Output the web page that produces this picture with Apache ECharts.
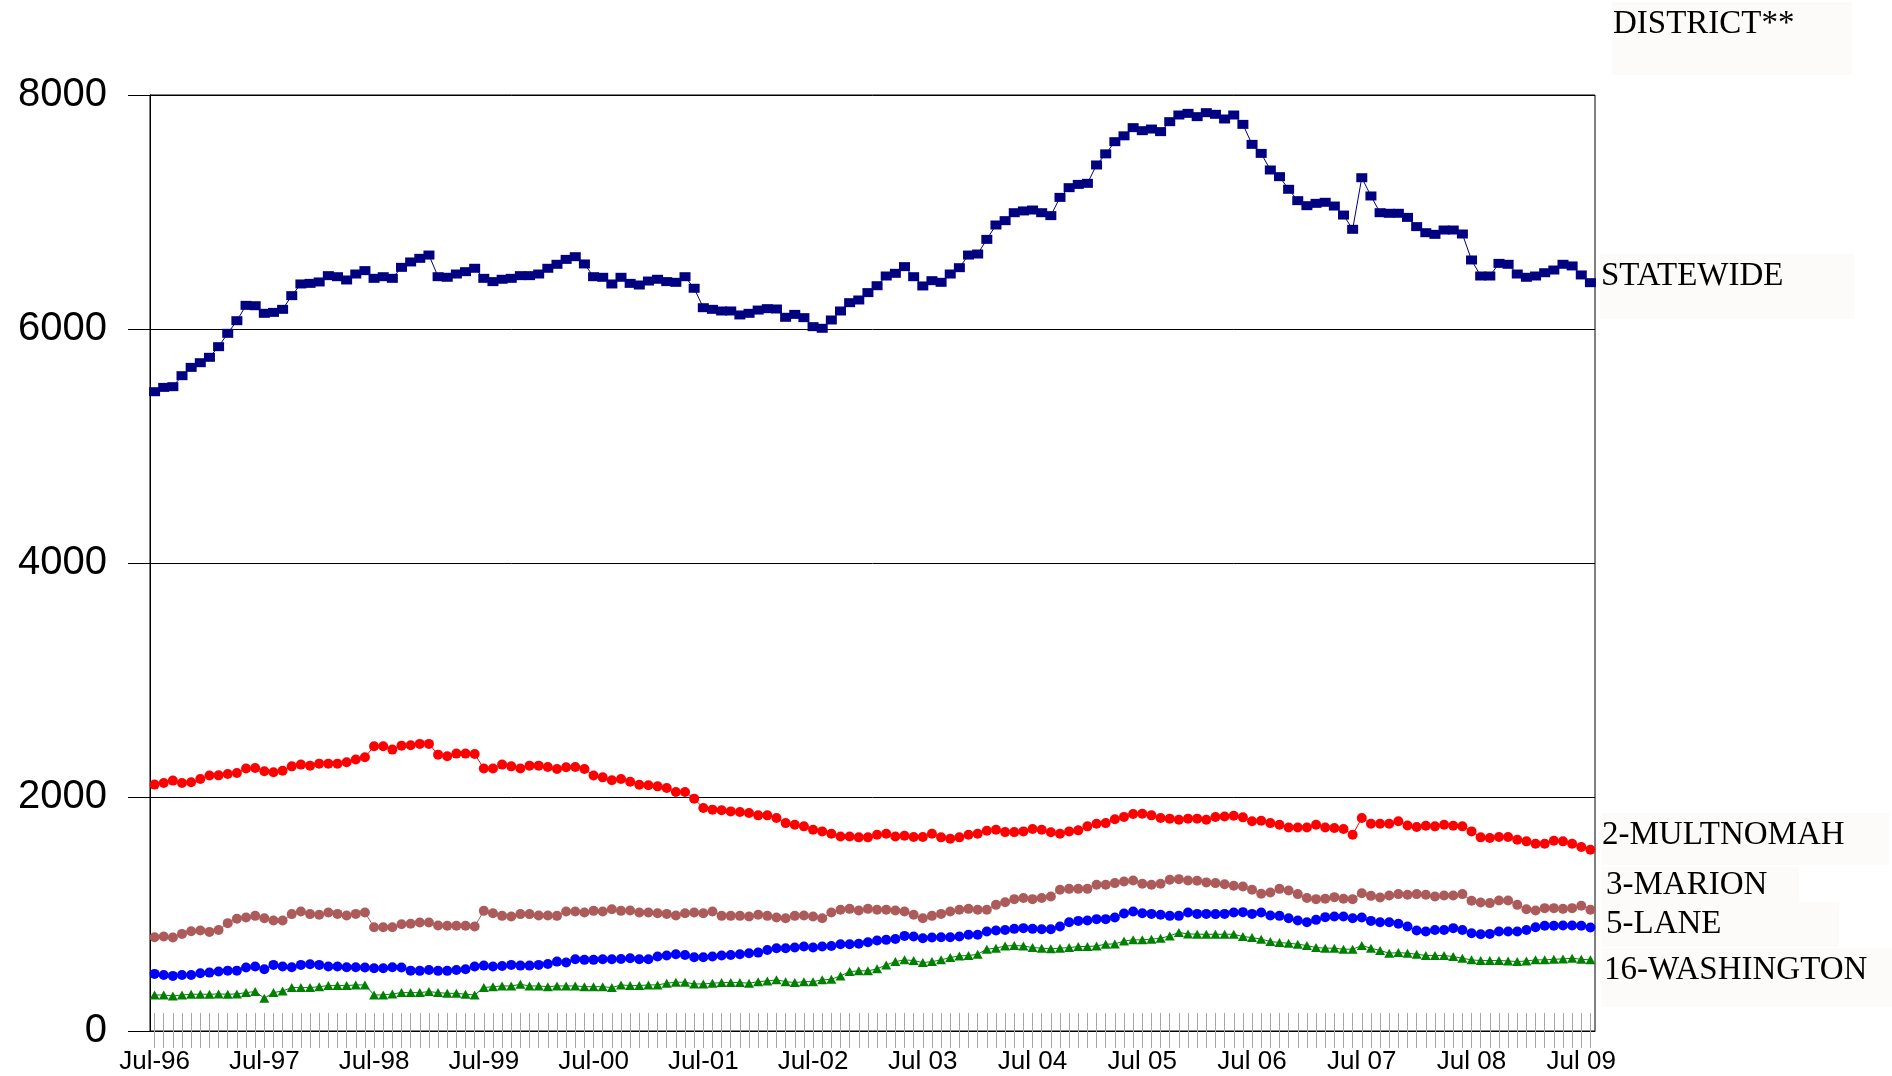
<!DOCTYPE html>
<html>
<head>
<meta charset="utf-8">
<title>District caseload</title>
<script src="https://cdn.jsdelivr.net/npm/echarts@6/dist/echarts.min.js"></script>
<style>
  html, body { margin: 0; padding: 0; background: #fff; }
  #main { width: 1892px; height: 1076px; }
</style>
</head>
<body>
<div id="main"></div>
<script>
// months Jul-96 .. Aug-09, one point per month
var monthNames = ['Jul','Aug','Sep','Oct','Nov','Dec','Jan','Feb','Mar','Apr','May','Jun'];
var julyLabels = ['Jul-96','Jul-97','Jul-98','Jul-99','Jul-00','Jul-01','Jul-02',
                  'Jul 03','Jul 04','Jul 05','Jul 06','Jul 07','Jul 08','Jul 09'];

var statewide = [5464,5501,5507,5601,5672,5712,5758,5849,5963,6071,6202,6199,
  6134,6142,6168,6285,6385,6390,6402,6456,6447,6419,6470,6499,
  6433,6447,6433,6527,6573,6604,6632,6447,6442,6470,6490,6519,
  6433,6405,6425,6433,6456,6456,6470,6519,6553,6595,6618,6556,
  6447,6442,6385,6442,6390,6376,6410,6425,6405,6399,6447,6348,
  6182,6168,6154,6154,6120,6134,6162,6174,6171,6100,6125,6097,
  6020,6006,6077,6154,6225,6248,6311,6370,6453,6476,6533,6447,
  6368,6413,6399,6470,6524,6632,6641,6766,6889,6926,6994,7009,
  7017,6994,6969,7125,7208,7236,7245,7402,7497,7601,7651,7721,
  7695,7709,7687,7772,7829,7843,7815,7849,7835,7795,7829,7749,
  7578,7501,7359,7302,7194,7097,7054,7074,7083,7051,6974,6852,
  7293,7137,6994,6989,6989,6954,6875,6823,6809,6846,6846,6812,
  6590,6453,6453,6561,6553,6470,6442,6453,6481,6504,6553,6539,
  6462,6396];

var multnomah = [2106,2120,2140,2120,2126,2154,2183,2185,2197,2205,2243,2248,
  2220,2211,2225,2262,2277,2268,2285,2285,2285,2297,2320,2339,
  2434,2434,2405,2439,2442,2454,2454,2362,2348,2371,2371,2368,
  2243,2243,2277,2262,2243,2268,2268,2257,2240,2254,2257,2240,
  2183,2168,2143,2154,2130,2105,2100,2091,2077,2043,2043,1986,
  1906,1892,1886,1877,1872,1863,1843,1843,1820,1777,1763,1749,
  1720,1706,1686,1663,1663,1655,1655,1678,1686,1663,1669,1658,
  1658,1686,1655,1643,1655,1678,1686,1712,1720,1700,1700,1706,
  1726,1720,1698,1686,1706,1715,1749,1772,1777,1810,1830,1854,
  1857,1843,1820,1815,1806,1815,1815,1806,1829,1834,1840,1826,
  1792,1797,1777,1763,1740,1740,1740,1763,1740,1735,1726,1678,
  1820,1772,1772,1772,1792,1757,1743,1755,1749,1763,1755,1749,
  1706,1655,1649,1658,1658,1635,1621,1600,1600,1626,1621,1600,
  1572,1549];

var marion = [802,807,799,830,853,859,847,864,922,959,970,984,
  964,944,944,999,1021,999,993,1013,1001,987,1001,1013,
  887,887,887,913,916,927,927,902,899,899,899,893,
  1027,1007,984,979,999,999,987,987,984,1021,1021,1013,
  1027,1021,1041,1027,1030,1013,1013,1007,1001,987,1007,1013,
  1007,1021,984,984,984,979,993,984,970,964,984,987,
  979,964,1013,1036,1044,1030,1044,1036,1036,1030,1021,993,
  964,984,1001,1021,1036,1044,1036,1036,1078,1101,1127,1136,
  1127,1136,1150,1207,1215,1215,1215,1250,1250,1264,1278,1287,
  1258,1250,1258,1292,1298,1287,1284,1270,1264,1255,1241,1235,
  1207,1173,1184,1215,1201,1170,1136,1127,1130,1144,1130,1127,
  1178,1155,1141,1158,1170,1164,1170,1164,1150,1158,1158,1170,
  1113,1098,1093,1116,1116,1078,1041,1030,1050,1050,1044,1050,
  1070,1036];

var lane = [488,479,471,479,479,494,499,508,516,516,542,551,
  528,565,551,545,565,571,565,551,551,545,545,542,
  536,536,545,542,516,514,522,514,514,522,528,551,
  559,551,556,565,559,559,565,573,593,585,613,608,
  608,613,613,616,622,613,613,636,645,656,650,631,
  631,636,645,650,656,665,670,693,708,708,713,722,
  713,722,727,742,742,745,759,773,779,787,813,807,
  793,799,802,802,807,822,822,850,859,864,873,879,
  873,870,870,893,930,941,944,956,956,970,1004,1021,
  1007,1001,993,984,984,1013,1001,1001,999,1001,1013,1016,
  1001,1013,987,984,964,944,930,950,973,979,979,964,
  970,941,930,930,916,893,859,850,864,864,879,864,
  836,827,830,850,850,850,864,887,899,899,902,902,
  899,884];

var washington = [308,308,300,308,314,314,314,317,314,317,328,337,
  280,328,342,371,371,371,379,388,388,388,394,394,
  308,308,317,328,328,328,337,328,322,322,314,308,
  371,379,385,385,399,385,385,379,385,385,385,379,
  379,379,371,394,388,388,394,394,408,417,417,402,
  402,408,414,414,414,408,422,428,437,422,414,422,
  422,437,442,471,508,514,514,531,565,593,608,602,
  585,593,608,628,642,645,656,699,708,727,730,727,
  713,708,702,708,713,722,722,727,742,744,769,779,
  779,785,793,813,842,830,827,827,827,827,827,807,
  799,785,765,756,750,742,730,713,708,708,699,699,
  730,708,688,665,670,665,656,645,645,645,636,622,
  608,602,602,602,599,593,599,608,608,613,616,622,
  613,608];

// category list built from the month names
var categories = [];
for (var i = 0; i < statewide.length; i++) {
  var yr = (96 + Math.floor(i / 12)) % 100;
  categories.push(monthNames[i % 12] + '-' + (yr < 10 ? '0' + yr : '' + yr));
}

var seriesNames = ['STATEWIDE','2-MULTNOMAH','3-MARION','5-LANE','16-WASHINGTON'];
var seriesColors = ['#000080','#ff0000','#ad5a5a','#0000ff','#008000'];

var myChart = echarts.init(document.getElementById('main'));

// a line series with markers
function lineSeries(idx, data, symbol, size) {
  return {
    name: seriesNames[idx],
    type: 'line',
    xAxisIndex: 0,
    yAxisIndex: 0,
    data: data,
    symbol: symbol,
    symbolSize: size,
    showAllSymbol: true,
    lineStyle: { color: seriesColors[idx], width: 1 },
    itemStyle: { color: seriesColors[idx], borderWidth: 0 },
    emphasis: { disabled: true }
  };
}

// right hand labels with their pale boxes
var sideLabels = [
  { text: 'DISTRICT**',    x: 1613, y: 24,  box: [1612, 2, 240, 73] },
  { text: 'STATEWIDE',     x: 1601, y: 276, box: [1600, 254, 254, 65] },
  { text: '2-MULTNOMAH',   x: 1602, y: 835, box: [1602, 813, 287, 52] },
  { text: '3-MARION',      x: 1606, y: 885, box: [1602, 867, 197, 35] },
  { text: '5-LANE',        x: 1606, y: 924, box: [1602, 902, 237, 45] },
  { text: '16-WASHINGTON', x: 1604, y: 970, box: [1602, 948, 290, 59] }
];
var graphics = [];
sideLabels.forEach(function (l) {
  graphics.push({
    type: 'rect', silent: true, z: 1,
    shape: { x: l.box[0], y: l.box[1], width: l.box[2], height: l.box[3] },
    style: { fill: '#fcfbf9' }
  });
  graphics.push({
    type: 'text', silent: true, z: 2, x: l.x, y: l.y,
    style: {
      text: l.text, fill: '#000',
      font: '33px "Liberation Serif", "Times New Roman", serif',
      textAlign: 'left', textVerticalAlign: 'middle'
    }
  });
});

var option = {
  animation: false,
  backgroundColor: '#ffffff',
  grid: [
    { left: 150, right: 297, top: 95, bottom: 45, show: true, borderColor: '#000', borderWidth: 1 },
    // thin strip only used to draw the upper half of the month ticks
    { left: 150, right: 297, top: 1013, bottom: 45 }
  ],
  xAxis: [{
    type: 'category',
    gridIndex: 0,
    data: categories,
    boundaryGap: true,
    axisLine: { lineStyle: { color: '#000', width: 1 } },
    axisTick: { show: true, interval: 0, alignWithLabel: true, length: 17,
                lineStyle: { color: '#a6a6a6', width: 1 } },
    axisLabel: {
      interval: 11, margin: 18, color: '#000', fontSize: 26,
      fontFamily: '"Liberation Sans", Arial, sans-serif',
      formatter: function (val, idx) { return julyLabels[Math.round(idx / 12)] || ''; }
    },
    splitLine: { show: false }
  }, {
    type: 'category',
    gridIndex: 1,
    data: categories,
    boundaryGap: true,
    axisLine: { show: false },
    axisTick: { show: true, inside: true, interval: 0, alignWithLabel: true, length: 18,
                lineStyle: { color: '#a6a6a6', width: 1 } },
    axisLabel: { show: false },
    splitLine: { show: false }
  }],
  yAxis: [{
    type: 'value',
    gridIndex: 0,
    min: 0, max: 8000, interval: 2000,
    axisLine: { show: true, lineStyle: { color: '#000', width: 1 } },
    axisTick: { show: true, length: 22, lineStyle: { color: '#000', width: 1 } },
    axisLabel: { margin: 43, color: '#000', fontSize: 40,
                 fontFamily: '"Liberation Sans", Arial, sans-serif',
                 formatter: function (v) { return String(v); } },
    splitLine: { show: true, lineStyle: { color: '#000', width: 1 } }
  }, {
    type: 'value', gridIndex: 1, show: false
  }],
  graphic: graphics,
  series: [
    lineSeries(0, statewide, 'rect', [11, 9]),
    lineSeries(1, multnomah, 'circle', 10),
    lineSeries(2, marion, 'circle', 10),
    lineSeries(3, lane, 'circle', 10),
    lineSeries(4, washington, 'triangle', [10, 9])
  ]
};

myChart.setOption(option);
</script>
</body>
</html>
